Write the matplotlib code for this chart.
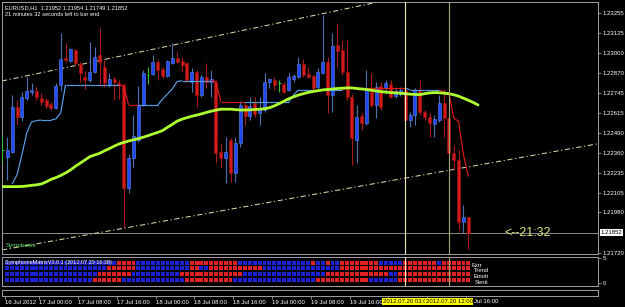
import numpy as np
import matplotlib
matplotlib.use("Agg")
import matplotlib.pyplot as plt
from matplotlib import transforms
from matplotlib.collections import LineCollection

plt.rcParams['font.family'] = ['Liberation Sans', 'DejaVu Sans']

# ---------------- data (EURUSD H1, 16 Jul 16:00 .. 20 Jul 16:00) ----------------
first_bar = -1
opens = [1.22379, 1.22334, 1.22366, 1.22653, 1.2259, 1.22711, 1.22749, 1.22755, 1.22711, 1.22698, 1.22673,
         1.22647, 1.22794, 1.22966, 1.22947, 1.23017, 1.22928, 1.22845, 1.22826, 1.22877, 1.22985,
         1.22909, 1.22794, 1.22832, 1.22806, 1.22794, 1.22137, 1.22328, 1.22443, 1.22666, 1.22858,
         1.22864, 1.2294, 1.22896, 1.22851, 1.22934, 1.22966, 1.22947, 1.22934, 1.22813, 1.22877,
         1.2273, 1.22845, 1.22813, 1.22813, 1.22366, 1.22328, 1.22443, 1.22232, 1.22424, 1.22666,
         1.22596, 1.22679, 1.22615, 1.22634, 1.22813, 1.22826, 1.22806, 1.228, 1.22762, 1.22832,
         1.22845, 1.22928, 1.22864, 1.22851, 1.22781, 1.2287, 1.2294, 1.2273, 1.23049, 1.23017,
         1.22877, 1.22717, 1.22443, 1.22596, 1.22551, 1.22749, 1.22666, 1.22787, 1.22775, 1.228,
         1.22724, 1.22736, 1.22762, 1.2257, 1.22602, 1.22762, 1.22621, 1.2259, 1.22545, 1.2257,
         1.22679, 1.22583, 1.2236, 1.22315, 1.2192, 1.21952]
highs = [1.22468, 1.22462, 1.2273, 1.22698, 1.22749, 1.22845, 1.22806, 1.22781, 1.22743, 1.22711, 1.22685,
         1.22806, 1.23125, 1.23062, 1.2303, 1.23023, 1.2294, 1.22883, 1.23068, 1.23036, 1.23157,
         1.22953, 1.2287, 1.22845, 1.22826, 1.22806, 1.22354, 1.22602, 1.22787, 1.22889, 1.22909,
         1.22985, 1.22953, 1.22909, 1.22953, 1.23062, 1.23004, 1.22972, 1.2294, 1.22902, 1.22889,
         1.22858, 1.22934, 1.22889, 1.22826, 1.22424, 1.22462, 1.22456, 1.22462, 1.22692, 1.22685,
         1.22717, 1.22717, 1.22717, 1.2287, 1.22838, 1.22845, 1.22826, 1.22813, 1.2287, 1.22864,
         1.22972, 1.2296, 1.22909, 1.22858, 1.22902, 1.2324, 1.22972, 1.23125, 1.23189, 1.23081,
         1.23081, 1.22736, 1.22666, 1.22615, 1.22889, 1.2287, 1.22813, 1.22813, 1.22826, 1.22826,
         1.22775, 1.22781, 1.22775, 1.22621, 1.22775, 1.22826, 1.22634, 1.22615, 1.22602, 1.2273,
         1.22768, 1.22596, 1.22411, 1.22379, 1.22028, 1.21954]
lows = [1.22302, 1.22188, 1.2236, 1.22539, 1.22564, 1.22698, 1.2273, 1.22698, 1.22666, 1.22647, 1.22634,
        1.22641, 1.22755, 1.2294, 1.2294, 1.22921, 1.22813, 1.22768, 1.22813, 1.2287, 1.22794,
        1.22781, 1.22781, 1.22698, 1.22704, 1.21881, 1.22105, 1.22271, 1.2243, 1.2266, 1.228,
        1.22858, 1.22826, 1.22838, 1.22845, 1.22928, 1.22934, 1.22877, 1.22813, 1.22749, 1.22653,
        1.22717, 1.22775, 1.22717, 1.22296, 1.22264, 1.22168, 1.22175, 1.22175, 1.22398, 1.22539,
        1.2257, 1.2259, 1.22539, 1.22621, 1.22775, 1.22762, 1.22749, 1.22743, 1.22755, 1.22813,
        1.22838, 1.22845, 1.22838, 1.22762, 1.22768, 1.22864, 1.22615, 1.22621, 1.22909, 1.22858,
        1.22698, 1.22283, 1.22296, 1.22507, 1.22539, 1.22653, 1.22583, 1.22634, 1.22743, 1.22711,
        1.22711, 1.22724, 1.22564, 1.22526, 1.22539, 1.22602, 1.2257, 1.22462, 1.22462, 1.22558,
        1.22462, 1.22347, 1.22251, 1.21869, 1.2185, 1.21749]
closes = [1.22379, 1.22379, 1.22653, 1.2259, 1.22717, 1.22755, 1.22762, 1.22717, 1.22685, 1.2266, 1.22647,
          1.22787, 1.2296, 1.22953, 1.23023, 1.22934, 1.2287, 1.22826, 1.22877, 1.22972, 1.2294,
          1.22806, 1.22832, 1.22813, 1.22794, 1.22137, 1.22328, 1.22468, 1.22666, 1.2287, 1.22858,
          1.2294, 1.22889, 1.22851, 1.22947, 1.22966, 1.2294, 1.22921, 1.22826, 1.22877, 1.2273,
          1.22845, 1.22813, 1.22832, 1.2236, 1.22328, 1.22366, 1.22232, 1.22424, 1.22666, 1.22596,
          1.2266, 1.22609, 1.22641, 1.22813, 1.22832, 1.22794, 1.22806, 1.22749, 1.22845, 1.22851,
          1.22928, 1.22858, 1.22845, 1.22775, 1.22877, 1.2294, 1.2273, 1.23043, 1.23011, 1.22877,
          1.22717, 1.22456, 1.2259, 1.22551, 1.22775, 1.22666, 1.22781, 1.22653, 1.22806, 1.22717,
          1.22755, 1.22762, 1.2257, 1.22602, 1.22762, 1.22621, 1.2259, 1.22551, 1.22577, 1.22679,
          1.22583, 1.2236, 1.22315, 1.2192, 1.21952, 1.21852]

# moving average (shifted 2 bars forward), bars -1 .. 97
ma_values = [1.22145, 1.22145, 1.22145, 1.22145, 1.22146, 1.22149, 1.22153, 1.22156, 1.22162, 1.22175, 1.22191,
             1.22202, 1.22216, 1.22232, 1.22251, 1.22274, 1.22294, 1.22315, 1.22336, 1.22347, 1.22357,
             1.22373, 1.22387, 1.22403, 1.22417, 1.22427, 1.22436, 1.22444, 1.22451, 1.2246, 1.2247,
             1.22481, 1.22491, 1.22503, 1.22523, 1.22542, 1.22563, 1.22575, 1.22585, 1.22594, 1.22601,
             1.22609, 1.22618, 1.22626, 1.22633, 1.22639, 1.22639, 1.22639, 1.22636, 1.22634, 1.22634,
             1.22635, 1.22637, 1.22639, 1.22642, 1.22648, 1.2266, 1.22674, 1.2269, 1.22706, 1.22718,
             1.22729, 1.22738, 1.22746, 1.22752, 1.22757, 1.22762, 1.22765, 1.22768, 1.22771, 1.22773,
             1.22775, 1.22775, 1.22771, 1.22768, 1.22765, 1.2276, 1.22755, 1.22751, 1.22748, 1.22745,
             1.22743, 1.22741, 1.22738, 1.22735, 1.22733, 1.22732, 1.22738, 1.22743, 1.22745, 1.22744,
             1.22741, 1.22738, 1.22731, 1.22722, 1.22709, 1.22696, 1.22682, 1.22666]

# trailing stop line, bars 1 .. 95
stop_level = [1.22162, 1.2222, 1.22347, 1.22487, 1.22558, 1.22566, 1.2257, 1.2257, 1.2257, 1.22577,
              1.22615, 1.22794, 1.22794, 1.22794, 1.22794, 1.22794, 1.22794, 1.22794, 1.22794, 1.22794,
              1.22794, 1.22794, 1.22794, 1.22787, 1.22666, 1.22666, 1.22666, 1.22666, 1.22666, 1.22666,
              1.22666, 1.22704, 1.22736, 1.22768, 1.22816, 1.22821, 1.22821, 1.22821, 1.22821, 1.22821,
              1.22821, 1.22821, 1.22816, 1.22687, 1.22687, 1.22687, 1.22687, 1.22687, 1.22687, 1.22687,
              1.22687, 1.22687, 1.22687, 1.22687, 1.22687, 1.22687, 1.22687, 1.22687, 1.2273, 1.22762,
              1.22762, 1.22762, 1.22762, 1.22762, 1.22762, 1.22762, 1.22762, 1.22762, 1.22762, 1.22773,
              1.22773, 1.22773, 1.22773, 1.22773, 1.22773, 1.22773, 1.22773, 1.22773, 1.22773, 1.22773,
              1.22773, 1.22773, 1.22762, 1.22762, 1.22762, 1.22762, 1.22762, 1.22762, 1.22762, 1.22749,
              1.2274, 1.22583, 1.2256, 1.22347, 1.22209]
stop_dir = ("UUUUUUUUUUUUUUUUUUUUUUU" + "DDDD" + "UUUUUUUUUUUUUUU" + "DDDDDDD"
            + "UUUUUUUUUUUUUUUUUUUU" + "DDDDDDDDDDDDD" + "UUUUUUU" + "DDDDDD")

# channel lines: (bar, price) anchor pairs
upper_channel = [(0, 1.22826), (95, 1.23444)]
lower_channel = [(0, 1.21747), (95, 1.22271)]

# vertical line objects and their (partly covered) axis labels
vline_bars = [82, 91]
vline_labels = ["2012.07.20 03:0", "2012.07.20 12:00"]

# SymphonieMatrix states per bar 0..95 (run lengths, B = blue, R = red)
matrix_names = ["Extr", "Trend", "Emoti", "Senti"]
matrix_runs = [
    [("B", 23), ("R", 4), ("B", 11), ("R", 10), ("B", 15), ("R", 1), ("B", 2), ("R", 1),
     ("B", 2), ("R", 8), ("B", 5), ("R", 7), ("B", 1), ("R", 6)],
    [("B", 21), ("R", 6), ("B", 11), ("R", 2), ("B", 2), ("R", 11), ("B", 16), ("R", 27)],
    [("B", 19), ("R", 7), ("B", 10), ("R", 13), ("B", 17), ("R", 13), ("B", 2), ("R", 15)],
    [("B", 18), ("R", 6), ("B", 13), ("R", 10), ("B", 17), ("R", 11), ("B", 6), ("R", 15)],
]

price_ticks = [1.23255, 1.23125, 1.23000, 1.22870, 1.22745, 1.22615, 1.22490,
               1.22360, 1.22235, 1.22105, 1.21980, 1.21720]
time_tick_bars = [0, 7, 15, 23, 31, 39, 47, 55, 63, 71, 79, 87, 95]
time_tick_labels = ["16 Jul 2012", "17 Jul 00:00", "17 Jul 08:00", "17 Jul 16:00", "18 Jul 00:00",
                    "18 Jul 08:00", "18 Jul 16:00", "19 Jul 00:00", "19 Jul 08:00", "19 Jul 16:00",
                    "", "", ""]
last_time_label = "Jul 16:00"   # visible part of "20 Jul 16:00"

# ---------------- figure ----------------
W, H = 625, 307
fig = plt.figure(figsize=(W / 100, H / 100), dpi=100, facecolor="black")


def rect(x0, y0, x1, y1):
    return [x0 / W, 1 - y1 / H, (x1 - x0) / W, (y1 - y0) / H]


ax = fig.add_axes(rect(2, 2, 598, 254))
ax2 = fig.add_axes(rect(2, 257, 598, 286))
ax3 = fig.add_axes(rect(2, 290, 598, 296))

grey = "#a0a0a0"
xlim = (-1.092, 121.72)
for a in (ax, ax2, ax3):
    a.set_facecolor("black")
    a.set_xlim(*xlim)
    for s in a.spines.values():
        s.set_color(grey)
        s.set_linewidth(0.7)
    a.tick_params(colors=grey, labelcolor="white", labelsize=4.3, length=2.2, width=0.6, pad=1)

ax.set_ylim(1.21715, 1.23323)

# candles
o = np.array(opens); h = np.array(highs); l = np.array(lows); c = np.array(closes)
bars = np.arange(first_bar, first_bar + len(o))
doji = np.isclose(o, c)
bull = (c > o) & ~doji
wick_cols = np.where(doji, "#33c433", np.where(bull, "#5070b4", "#a81c1c"))
ax.vlines(bars, l, h, colors=wick_cols, lw=0.8, zorder=3)
nd = ~doji
face = np.where(bull[nd], "#2248ff", "#d41a1a")
edge = np.where(bull[nd], "#6088d8", "#a01212")
ax.bar(bars[nd], np.abs(c - o)[nd], bottom=np.minimum(o, c)[nd], width=0.62,
       color=face, edgecolor=edge, linewidth=0.4, zorder=4)
ax.hlines(o[doji], bars[doji] - 0.3, bars[doji] + 0.3, colors="#33c433", lw=0.8, zorder=4)

# channel lines
for pts in (upper_channel, lower_channel):
    ax.axline(pts[0], pts[1], color="#dcd7a6", lw=0.75, linestyle=(0, (5, 2.5, 1.2, 2.5)), zorder=2)

# current price line
last_close = closes[-1]
ax.axhline(last_close, color="#8c8c8c", lw=0.7, zorder=1)

# trailing stop line
sx = np.arange(1, 1 + len(stop_level))
segs, cols = [], []
for k in range(1, len(stop_level)):
    segs.append([(sx[k - 1], stop_level[k - 1]), (sx[k], stop_level[k])])
    cols.append("#5aa0ea" if stop_dir[k] == "U" else "#e01818")
ax.add_collection(LineCollection(segs, colors=cols, linewidths=0.85, zorder=5))

# moving average
ax.plot(np.arange(-1, -1 + len(ma_values)), ma_values, color="#adff2f", lw=2.0,
        solid_capstyle="round", zorder=6)

# vertical lines
vcols = ["#efe9c2", "#a6a66c"]
for b, vc in zip(vline_bars, vcols):
    ax.axvline(b, color=vc, lw=0.8, zorder=7)
    ax2.axvline(b, color=vc, lw=0.8, zorder=7)

# price axis
ax.yaxis.tick_right()
ax.set_yticks(price_ticks)
ax.set_yticklabels([f"{p:.5f}" for p in price_ticks])
ax.tick_params(axis="x", bottom=False, labelbottom=False)
bt = transforms.blended_transform_factory(ax.transAxes, ax.transData)
ax.text(1 + 3 / 596, last_close, f"{last_close:.5f}", transform=bt, ha="left", va="center",
        fontsize=4.3, color="black", clip_on=False, zorder=10,
        bbox=dict(boxstyle="square,pad=0.12", fc="white", ec="none"))

# matrix panel
row_levels = [4.1, 2.95, 1.78, 0.55]
for runs, yv in zip(matrix_runs, row_levels):
    states = "".join(s * n for s, n in runs)
    colors = ["#1c22d4" if s == "B" else "#e02222" for s in states]
    ax2.bar(np.arange(len(states)), 0.82, bottom=yv - 0.41, width=0.8, color=colors, zorder=2)
ax2.set_ylim(-0.68, 5.27)
ax2.yaxis.tick_right()
ax2.set_yticks([5, 0])
ax2.set_yticklabels(["5", "0"])
ax2.tick_params(axis="x", bottom=False, labelbottom=False)

# time axis
ax3.set_yticks([])
ax3.set_xticks([b - 0.45 for b in time_tick_bars])
ax3.set_xticklabels(time_tick_labels, ha="left")
ty = 1 - 301.6 / H
tt = transforms.blended_transform_factory(ax3.transData, fig.transFigure)
ax3.text(vline_bars[0] - 0.05, ty, vline_labels[0], transform=tt, ha="center", va="center",
         fontsize=4.3, color="black", clip_on=False, zorder=10,
         bbox=dict(boxstyle="square,pad=0.12", fc="#ffff00", ec="none"))
ax3.text(vline_bars[1] + 0.05, ty, vline_labels[1], transform=tt, ha="center", va="center",
         fontsize=4.3, color="black", clip_on=False, zorder=10,
         bbox=dict(boxstyle="square,pad=0.12", fc="#ffff00", ec="none"))
fig.text(473.5 / W, ty, last_time_label, color="white", fontsize=4.3, ha="left", va="center")

# texts
def ftext(px, py, s, **kw):
    fig.text(px / W, 1 - py / H, s, va="center", ha="left", **kw)

ftext(5, 7.3, "EURUSD,H1  1.21952 1.21954 1.21749 1.21852", color="white", fontsize=4.05)
ftext(5, 14.7, "21 minutes 32 seconds left to bar end", color="white", fontsize=4.1)
ftext(6, 245, "Symphonie", color="#66dd66", fontsize=4.5)
ftext(504, 232.5, "<--21:32", color="#e4e47a", fontsize=9)
ftext(5, 262.7, "SymphonieMatrixV3.0.1 (2012.07.20 16:38)", color="white", fontsize=4.0)
for name, px, py in zip(matrix_names, [472, 474, 474, 475], [265.5, 271, 276.5, 282]):
    ftext(px, py, name, color="white", fontsize=4.2)

fig.savefig("out.png", dpi=100, facecolor="black")
